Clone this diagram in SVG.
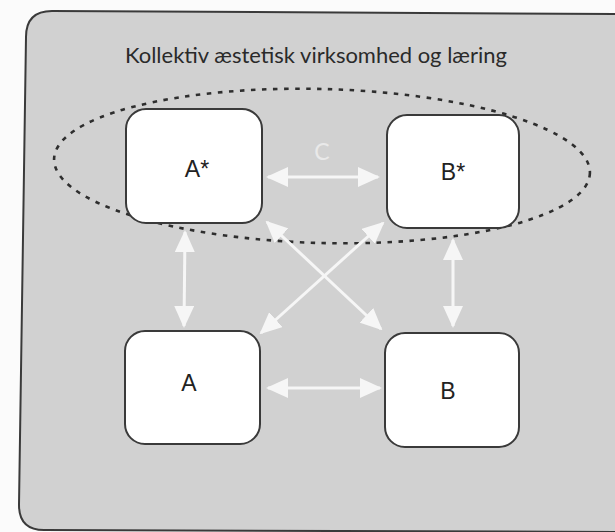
<svg xmlns="http://www.w3.org/2000/svg" width="615" height="532" viewBox="0 0 615 532">
  <style>
    .node rect { fill: #ffffff; stroke: #3a3a3a; stroke-width: 2; }
    .node text { font-family: "Liberation Sans", Arial, sans-serif; font-size: 23px; fill: #222222; text-anchor: middle; }
    .conn line { stroke: #f6f6f6; stroke-width: 3; marker-start: url(#ah); marker-end: url(#ah); }
    .title { font-family: "Lato", "Open Sans", sans-serif; font-size: 21px; fill: #2a2a2a; }
  </style>
  <defs>
    <marker id="ah" viewBox="0 0 22 20" refX="20" refY="10" markerWidth="22" markerHeight="20" markerUnits="userSpaceOnUse" orient="auto-start-reverse">
      <path d="M0,0 L22,10 L0,20 z" fill="#f6f6f6"/>
    </marker>
  </defs>

  <rect x="0" y="0" width="615" height="532" fill="#fbfbfb"/>

  <g id="panel">
    <path d="M26,37 Q26,11 52,11 L620,14 L620,532 L44,530 Q19,530 19,505 Z" fill="#d1d1d1" stroke="#3a3a3a" stroke-width="2"/>
    <text class="title" x="125" y="63" textLength="382" lengthAdjust="spacingAndGlyphs">Kollektiv æstetisk virksomhed og læring</text>
  </g>

  <g id="group-ellipse">
    <ellipse cx="322" cy="166" rx="268" ry="77" transform="rotate(1.5 322 166)" fill="none" stroke="#2e2e2e" stroke-width="2.6" stroke-dasharray="4.5 6.5"/>
  </g>

  <g id="node-Astar" class="node">
    <rect x="126" y="109" width="136" height="114" rx="20"/>
    <text x="197" y="177">A*</text>
  </g>
  <g id="node-Bstar" class="node">
    <rect x="387" y="115" width="132" height="113" rx="20"/>
    <text x="453" y="180">B*</text>
  </g>
  <g id="node-A" class="node">
    <rect x="125" y="331" width="135" height="113" rx="20"/>
    <text x="189" y="391">A</text>
  </g>
  <g id="node-B" class="node">
    <rect x="385" y="333" width="134" height="114" rx="20"/>
    <text x="448" y="399">B</text>
  </g>

  <g id="connectors" class="conn">
    <line x1="268" y1="177" x2="378" y2="177"/>
    <line x1="268" y1="388" x2="380" y2="388"/>
    <line x1="185" y1="232" x2="184" y2="326"/>
    <line x1="453" y1="240" x2="453" y2="326"/>
    <line x1="267" y1="222" x2="381" y2="329"/>
    <line x1="383" y1="223" x2="261" y2="333"/>
    <text x="322" y="160" font-family="Lato, 'Open Sans', sans-serif" font-size="23" fill="#e9e9e9" text-anchor="middle">C</text>
  </g>
</svg>
